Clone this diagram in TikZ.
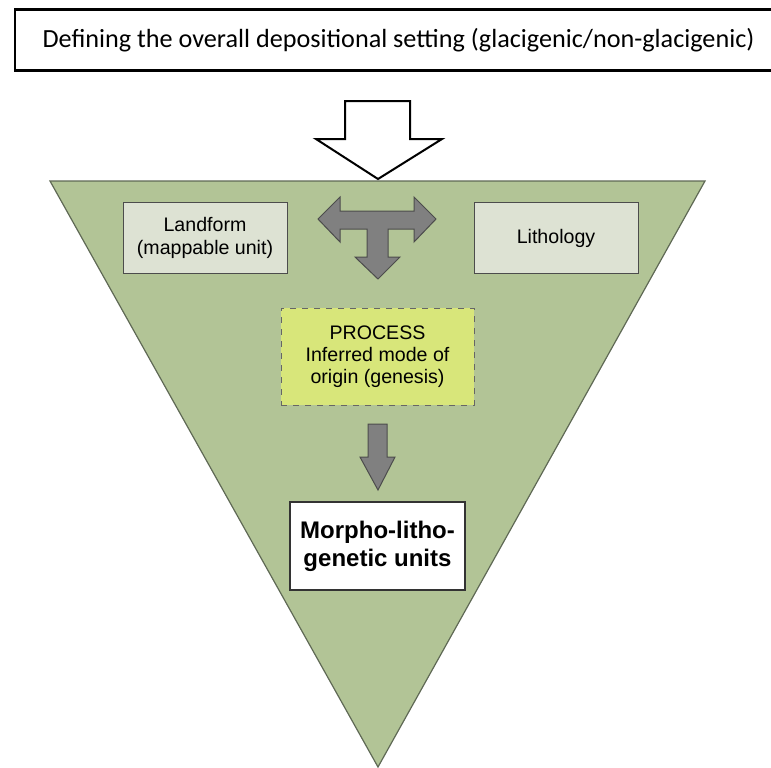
\documentclass[tikz,border=0pt]{standalone}
\usepackage{fontspec}
\setmainfont{Liberation Sans}
\newfontfamily\calfont{Carlito}
\usepackage{tikz}
\usetikzlibrary{backgrounds}
\definecolor{triGreen}{RGB}{178,196,150}
\definecolor{triEdge}{RGB}{95,105,85}
\definecolor{boxGrey}{RGB}{221,226,211}
\definecolor{procGreen}{RGB}{216,230,122}
\definecolor{arrowGrey}{RGB}{128,128,128}
\tikzset{
  unitbox/.style={draw=black!70, line width=0.5pt, fill=boxGrey, align=center,
    minimum width=82pt, minimum height=35.5pt, inner sep=0pt,
    font=\fontsize{9.8}{11.5}\selectfont},
  procbox/.style={draw=black!60, dashed, line width=0.5pt, fill=procGreen, align=center,
    minimum width=96.5pt, minimum height=48.5pt, inner sep=0pt,
    font=\fontsize{9.8}{11}\selectfont},
  resultbox/.style={draw=black!80, line width=0.6pt, fill=white, align=center,
    minimum width=87.5pt, minimum height=44pt, inner sep=0pt,
    font=\bfseries\fontsize{12}{14}\selectfont},
  blockarrow/.style={draw=black!70, line width=0.5pt, fill=arrowGrey, line join=miter}
}

\begin{document}
\begin{tikzpicture}[x=0.5pt,y=-0.5pt]
\useasboundingbox (0,0) rectangle (771,767);
\node[draw, line width=1.3pt, minimum width=383.5pt, minimum height=30.5pt,
  font=\calfont\fontsize{13.1}{16}\selectfont] (setting) at (398.5,39.75)
  {Defining the overall depositional setting (glacigenic/non-glacigenic)};
\draw[triEdge, fill=triGreen, line width=0.6pt] (50,181) -- (705,181) -- (378,767) -- cycle;
\draw[black, fill=white, line width=1pt, line join=miter]
  (345,101) -- (410,101) -- (410,139) -- (442,139) -- (378,179) -- (316,139) -- (345,139) -- cycle;
\node[unitbox] (landform) at (205,238) {Landform\\(mappable unit)};
\node[unitbox] (litho) at (556,238) {Lithology};
\node[procbox] (process) at (377.5,356.5) {PROCESS\\Inferred mode of\\origin (genesis)};
\node[resultbox] (units) at (377.5,546) {Morpho-litho-\\genetic units};
\draw[blockarrow] (318,219) -- (340,197) -- (340,211) -- (414,211) -- (414,197) -- (436,219)
  -- (414,242) -- (414,229) -- (388,229) -- (388,257) -- (400,257) -- (378,279)
  -- (355,257) -- (367,257) -- (367,229) -- (340,229) -- (340,242) -- cycle;
\draw[blockarrow] (368,424) -- (387,424) -- (387,457) -- (395,457) -- (378,490)
  -- (360,457) -- (368,457) -- cycle;
\end{tikzpicture}
\end{document}
